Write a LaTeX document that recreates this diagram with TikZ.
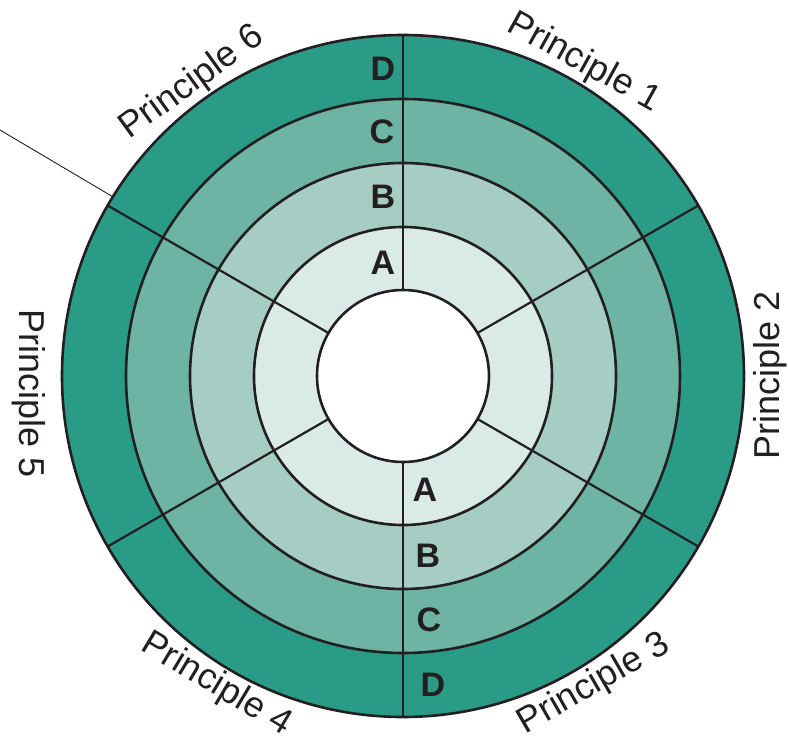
\documentclass[tikz,border=0pt]{standalone}
\usepackage{fontspec}
\setmainfont{Liberation Sans}
\definecolor{linecol}{HTML}{231F20}
\definecolor{ringD}{HTML}{299B87}
\definecolor{ringC}{HTML}{6DB4A4}
\definecolor{ringB}{HTML}{A5CDC3}
\definecolor{ringA}{HTML}{DAEBE7}
\begin{document}
\begin{tikzpicture}[x=1pt,y=1pt,
    ringline/.style={draw=linecol, line width=2.6pt},
    divider/.style={draw=linecol, line width=2.2pt},
    plabel/.style={text=linecol, font=\fontsize{36}{40}\selectfont, inner sep=0pt},
    lvl/.style={text=linecol, font=\fontsize{34}{40}\selectfont\bfseries, inner sep=0pt}]
\useasboundingbox (-403,-364) rectangle (385,376);

%%%%%%%%%%%%%%%%%%%% Rings %%%%%%%%%%%%%%%%%%%%%%%%%%
\foreach \rad/\col in {341/ringD, 277/ringC, 213/ringB, 149/ringA, 86/white}
{
    \fill[\col] (0,0) circle (\rad);
}
\foreach \rad in {341, 277, 213, 149, 86}
{
    \draw[ringline] (0,0) circle (\rad);
}

%%%%%%%%%%%%%%%%%%%% Sector lines %%%%%%%%%%%%%%%%%%%%%%%%%%
\foreach \index in {1, ..., 6}
{
    \coordinate (in\index) at ({90-(\index-1)*60}:86);
    \coordinate (out\index) at ({90-(\index-1)*60}:341);
    \path [divider] (in\index) edge (out\index);
}

%pointer line
\coordinate (tip) at (148.3:342);
\coordinate (tail) at (-403,246);
\draw[linecol, line width=0.9pt] (tip) -- (tail);

%%%%%%%%%%%%%%%%%%%% Levels %%%%%%%%%%%%%%%%%%%%%%%%%%
\foreach \lbl/\px/\py in {A/-20/113, B/-20/179, C/-21/244, D/-20/307}
{
    \node[lvl] (top\lbl) at (\px,\py) {\lbl};
}
\foreach \lbl/\px/\py in {A/22/-114, B/25/-180, C/26/-244, D/30/-309}
{
    \node[lvl] (bot\lbl) at (\px,\py) {\lbl};
}

%%%%%%%%%%%%%%%%%%%% Principles %%%%%%%%%%%%%%%%%%%%%%%%%%
\foreach \num/\px/\py/\rot in {1/181/313/-29, 2/367/1/90, 3/191/-308/30, 4/-187/-309/-31, 5/-374/-18/-90, 6/-211/293/36}
{
    \node[plabel, rotate=\rot] (p\num) at (\px,\py) {Principle \num};
}

\end{tikzpicture}
\end{document}
